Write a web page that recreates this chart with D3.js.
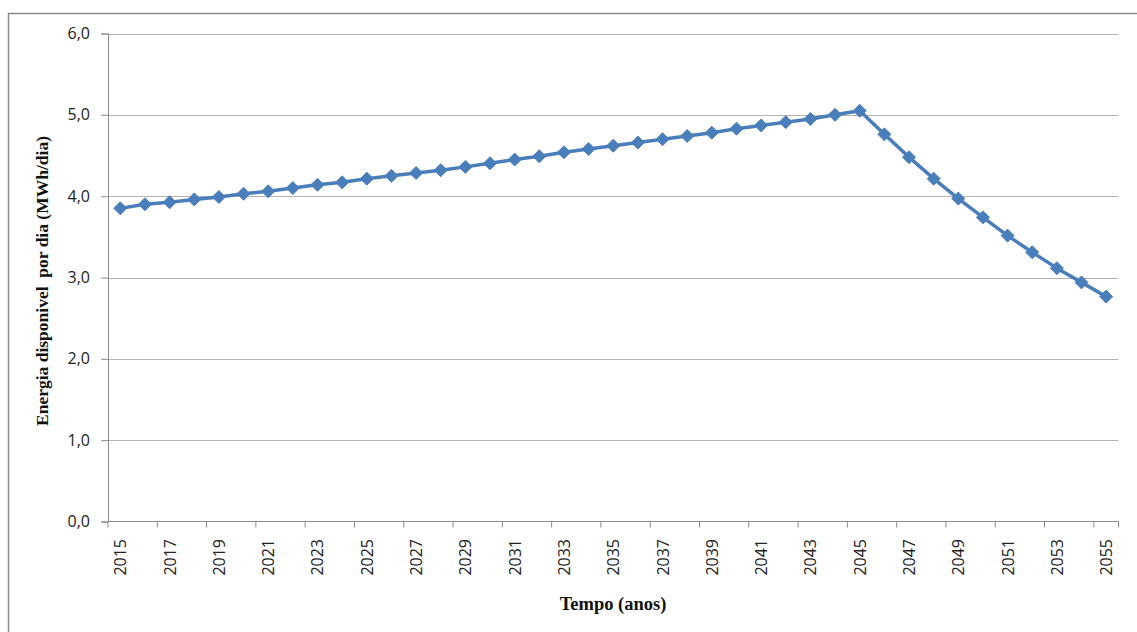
<!DOCTYPE html>
<html>
<head>
<meta charset="utf-8">
<script src="https://cdn.jsdelivr.net/npm/d3@7"></script>
<style>
  html, body { margin: 0; padding: 0; background: #fff; }
  svg { display: block; }
</style>
</head>
<body>
<svg id="chart" width="1137" height="632"></svg>
<script>
// Years on the category axis
const years = d3.range(2015, 2056).map(String);

// Available energy per day (MWh/dia) for each year
const energia = [
  3.85, 3.90, 3.925, 3.96, 3.99, 4.03, 4.06, 4.10, 4.14, 4.17,
  4.215, 4.25, 4.285, 4.32, 4.36, 4.405, 4.45, 4.49, 4.54, 4.58,
  4.62, 4.66, 4.70, 4.74, 4.78, 4.83, 4.87, 4.91, 4.95, 5.00,
  5.05, 4.76, 4.48, 4.215, 3.97, 3.74, 3.515, 3.31, 3.115, 2.94,
  2.765
];

// Value-axis ticks
const yTicks = [0, 1, 2, 3, 4, 5, 6];

const svg = d3.select("#chart");
const W = 1137, H = 632;
const plot = { left: 108, right: 1118.5, top: 33.5, bottom: 521.5 };

// Outer chart frame (runs off the right and bottom edges)
svg.append("rect")
  .attr("x", 8.5).attr("y", 13.5)
  .attr("width", W + 20).attr("height", H + 20)
  .attr("fill", "none")
  .attr("stroke", "#8a8a8a")
  .attr("stroke-width", 1.5);

const x = d3.scaleBand().domain(years).range([plot.left, plot.right]).paddingInner(0).paddingOuter(0);
const y = d3.scaleLinear().domain([0, 6]).range([plot.bottom, plot.top]);

const fmt = v => d3.format(".1f")(v).replace(".", ",");
const tickFont = "'Open Sans', 'DejaVu Sans', sans-serif";

// Horizontal gridlines
svg.append("g")
  .selectAll("line")
  .data(yTicks.filter(v => v > 0))
  .join("line")
  .attr("x1", plot.left).attr("x2", plot.right)
  .attr("y1", d => Math.round(y(d)) + 0.5).attr("y2", d => Math.round(y(d)) + 0.5)
  .attr("stroke", "#b4b4b4").attr("stroke-width", 1);

// Y axis
const yAxis = svg.append("g")
  .attr("transform", `translate(${plot.left},0)`)
  .call(d3.axisLeft(y).tickValues(yTicks).tickFormat(fmt).tickSize(7).tickPadding(11));
yAxis.select(".domain").attr("stroke", "#8a8a8a");
yAxis.selectAll(".tick line").attr("stroke", "#8a8a8a");
yAxis.selectAll(".tick text")
  .attr("font-family", tickFont)
  .attr("font-size", 16).attr("fill", "#222");

// X axis: tick marks at every second category boundary
const xAxisG = svg.append("g");
xAxisG.append("line")
  .attr("x1", plot.left).attr("x2", plot.right)
  .attr("y1", plot.bottom).attr("y2", plot.bottom)
  .attr("stroke", "#8a8a8a");
xAxisG.selectAll("line.tk")
  .data(years.filter((d, i) => i % 2 === 0).concat(["end"]))
  .join("line")
  .attr("class", "tk")
  .attr("x1", d => d === "end" ? plot.right : x(d))
  .attr("x2", d => d === "end" ? plot.right : x(d))
  .attr("y1", plot.bottom).attr("y2", plot.bottom + 6)
  .attr("stroke", "#8a8a8a");

// Year labels (every other year), rotated
xAxisG.selectAll("text")
  .data(years.filter((d, i) => i % 2 === 0))
  .join("text")
  .attr("transform", d => `translate(${x(d) + x.bandwidth() / 2 + 6},539) rotate(-90)`)
  .attr("text-anchor", "end")
  .attr("font-family", tickFont)
  .attr("font-size", 16).attr("fill", "#222")
  .text(d => d);

// Series line
const line = d3.line()
  .x((d, i) => x(years[i]) + x.bandwidth() / 2)
  .y(d => y(d));

svg.append("path")
  .datum(energia)
  .attr("d", line)
  .attr("fill", "none")
  .attr("stroke", "#4a7ebb")
  .attr("stroke-width", 3.5)
  .attr("stroke-linejoin", "round");

// Diamond markers
svg.append("g")
  .selectAll("path")
  .data(energia)
  .join("path")
  .attr("transform", (d, i) => `translate(${x(years[i]) + x.bandwidth() / 2},${y(d)})`)
  .attr("d", "M0,-6.5L6.5,0L0,6.5L-6.5,0Z")
  .attr("fill", "#4a7ebb")
  .attr("stroke", "#4a7ebb")
  .attr("stroke-width", 1);

// Axis titles
svg.append("text")
  .attr("x", 613).attr("y", 610)
  .attr("text-anchor", "middle")
  .attr("font-family", "'Liberation Serif', 'Times New Roman', serif")
  .attr("font-weight", "bold")
  .attr("font-size", 18.5).attr("fill", "#111")
  .text("Tempo (anos)");

svg.append("text")
  .attr("transform", "translate(48,281) rotate(-90)")
  .attr("text-anchor", "middle")
  .attr("font-family", "'Liberation Serif', 'Times New Roman', serif")
  .attr("font-weight", "bold")
  .attr("font-size", 17.5).attr("fill", "#111")
  .attr("xml:space", "preserve")
  .text("Energia disponivel  por dia (MWh/dia)");
</script>
</body>
</html>
